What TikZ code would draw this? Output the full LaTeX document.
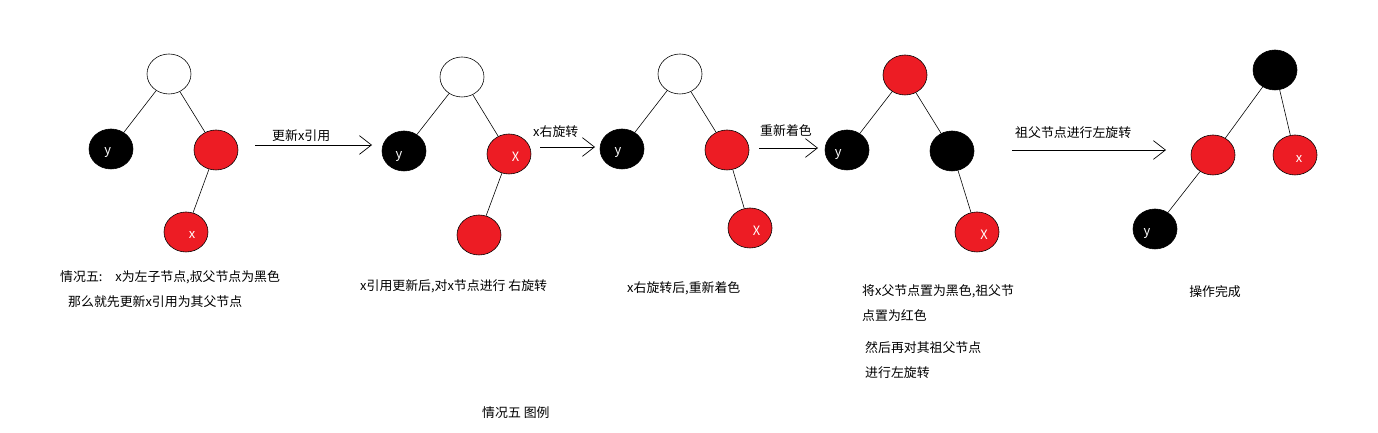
\documentclass[tikz,border=0pt]{standalone}
\usepackage{fontspec}
\setmainfont{Noto Sans CJK SC}
\usetikzlibrary{shapes.geometric,arrows.meta}
\definecolor{paintred}{HTML}{ED1C24}
\tikzset{
  nd/.style={ellipse,draw=black,line width=0.5pt,minimum width=1.32cm,minimum height=1.2cm,inner sep=0pt},
  wnode/.style={nd,fill=white},
  bnode/.style={nd,fill=black},
  rnode/.style={nd,fill=paintred},
  lbl/.style={text=white,font=\fontsize{11}{13}\selectfont},
  txt/.style={anchor=west,inner sep=0pt,font=\fontsize{11}{13}\selectfont},
  edge/.style={line width=0.5pt},
  stepArrow/.style={line width=0.6pt,-{Straight Barb[length=0.36cm,width=0.56cm]}}
}
\begin{document}
\begin{tikzpicture}[x=0.03cm,y=-0.03cm]
\useasboundingbox (0,0) rectangle (1378,433);
% tree 1
\node[wnode] (r1) at (169,74) {};
\node[bnode,label={[lbl,xshift=-0.1cm,yshift=-0.1cm]center:y}] (y1) at (111,149) {};
\node[rnode] (p1) at (216,150) {};
\node[rnode,label={[lbl,xshift=0.18cm,yshift=-0.08cm]center:x}] (x1) at (186,232) {};
\draw[edge] (r1) -- (y1); \draw[edge] (r1) -- (p1); \draw[edge] (p1) -- (x1);
\node[txt] (t1a) at (60,277) {情况五:\quad x为左子节点,叔父节点为黑色};
\node[txt] (t1b) at (68,302) {那么就先更新x引用为其父节点};
% arrow 1
\coordinate (a1s) at (255,145); \coordinate (a1e) at (372,145);
\draw[stepArrow] (a1s) -- (a1e);
\node[txt] (l1) at (272,136) {更新x引用};
% tree 2
\node[wnode] (r2) at (462,77) {};
\node[bnode,label={[lbl,xshift=-0.15cm,yshift=-0.18cm]center:y}] (y2) at (404,151) {};
\node[rnode,label={[lbl,xshift=0.2cm,yshift=-0.09cm]center:X}] (x2) at (509,154) {};
\node[rnode] (c2) at (479,235) {};
\draw[edge] (r2) -- (y2); \draw[edge] (r2) -- (x2); \draw[edge] (x2) -- (c2);
\node[txt] (t2) at (360,286) {x引用更新后,对x节点进行 右旋转};
% arrow 2
\coordinate (a2s) at (540,147); \coordinate (a2e) at (595,147);
\draw[stepArrow] (a2s) -- (a2e);
\node[txt] (l2) at (533,132) {x右旋转};
% tree 3
\node[wnode] (r3) at (680,74) {};
\node[bnode,label={[lbl,xshift=-0.12cm,yshift=-0.12cm]center:y}] (y3) at (622,149) {};
\node[rnode] (p3) at (727,150) {};
\node[rnode,label={[lbl,xshift=0.2cm,yshift=-0.09cm]center:X}] (x3) at (750,228) {};
\draw[edge] (r3) -- (y3); \draw[edge] (r3) -- (p3); \draw[edge] (p3) -- (x3);
\node[txt] (t3) at (627,288) {x右旋转后,重新着色};
% arrow 3
\coordinate (a3s) at (759,148); \coordinate (a3e) at (818,148);
\draw[stepArrow] (a3s) -- (a3e);
\node[txt] (l3) at (760,131) {重新着色};
% tree 4
\node[rnode] (r4) at (905,75) {};
\node[bnode,label={[lbl,xshift=-0.26cm,yshift=-0.15cm]center:y}] (y4) at (847,150) {};
\node[bnode] (p4) at (952,151) {};
\node[rnode,label={[lbl,xshift=0.21cm,yshift=-0.09cm]center:X}] (x4) at (977,232) {};
\draw[edge] (r4) -- (y4); \draw[edge] (r4) -- (p4); \draw[edge] (p4) -- (x4);
\node[txt] (t4a) at (862,291) {将x父节点置为黑色,祖父节};
\node[txt] (t4b) at (862,316) {点置为红色};
\node[txt] (t4c) at (865,348) {然后再对其祖父节点};
\node[txt] (t4d) at (865,373) {进行左旋转};
% arrow 4
\coordinate (a4s) at (1012,150); \coordinate (a4e) at (1166,150);
\draw[stepArrow] (a4s) -- (a4e);
\node[txt] (l4) at (1015,133) {祖父节点进行左旋转};
% tree 5
\node[bnode] (r5) at (1275,70) {};
\node[rnode] (p5) at (1213,155) {};
\node[rnode,label={[lbl,xshift=0.12cm,yshift=-0.12cm]center:x}] (x5) at (1295,155) {};
\node[bnode,label={[lbl,xshift=-0.24cm,yshift=-0.15cm]center:y}] (y5) at (1155,229) {};
\draw[edge] (r5) -- (p5); \draw[edge] (r5) -- (x5); \draw[edge] (p5) -- (y5);
\node[txt] (t5) at (1189,292) {操作完成};
% caption
\node[txt] (cap) at (482,413) {情况五 图例};
\end{tikzpicture}
\end{document}
